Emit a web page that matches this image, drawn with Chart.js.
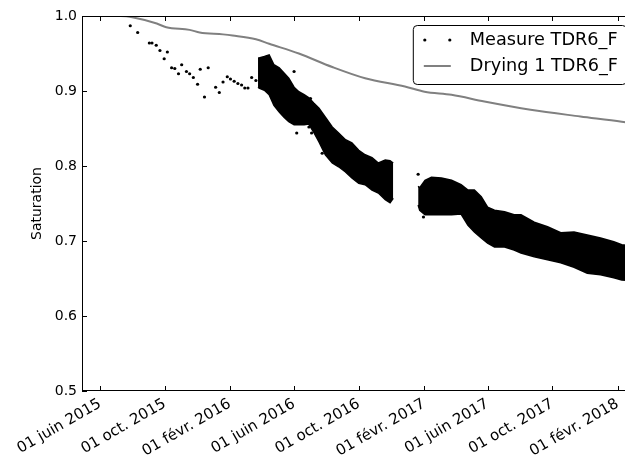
<!DOCTYPE html>
<html>
<head>
<meta charset="utf-8">
<script src="https://cdn.jsdelivr.net/npm/chart.js"></script>
<style>
  html, body { margin: 0; padding: 0; background: #fff; overflow: hidden; }
  #wrap { width: 643px; height: 456px; }
</style>
</head>
<body>
<div id="wrap"><canvas id="satChart" width="643" height="456"></canvas></div>
<script>
// x axis range and ticks
const xStart = '2015-04-28';
const xEnd = '2018-03-06';
const tickDates = ['2015-06-01', '2015-10-01', '2016-02-01', '2016-06-01', '2016-10-01',
                   '2017-02-01', '2017-06-01', '2017-10-01', '2018-02-01'];
const tickLabels = ['01 juin 2015', '01 oct. 2015', '01 févr. 2016', '01 juin 2016', '01 oct. 2016',
                    '01 févr. 2017', '01 juin 2017', '01 oct. 2017', '01 févr. 2018'];
const yTicks = [0.5, 0.6, 0.7, 0.8, 0.9, 1.0];
const yTickLabels = ['0.5', '0.6', '0.7', '0.8', '0.9', '1.0'];

// single measurements (sparse start + outliers)
const measureDates = ['2015-07-28', '2015-08-11', '2015-09-02', '2015-09-07', '2015-09-15', '2015-09-22',
  '2015-09-30', '2015-10-06', '2015-10-14', '2015-10-20', '2015-10-27', '2015-11-02', '2015-11-11',
  '2015-11-17', '2015-11-24', '2015-12-02', '2015-12-07', '2015-12-15', '2015-12-22', '2016-01-05',
  '2016-01-12', '2016-01-19', '2016-01-27', '2016-02-02', '2016-02-09', '2016-02-16', '2016-02-23',
  '2016-02-29', '2016-03-06', '2016-03-13', '2016-03-21', '2016-06-01', '2016-06-06', '2016-06-29',
  '2016-07-02', '2016-07-04', '2016-07-24', '2017-01-21', '2017-01-31'];
const measureValues = [0.987, 0.978, 0.964, 0.964, 0.961, 0.954,
  0.943, 0.952, 0.931, 0.930, 0.923, 0.935, 0.926,
  0.923, 0.918, 0.909, 0.929, 0.892, 0.931, 0.905,
  0.898, 0.912, 0.919, 0.916, 0.913, 0.910, 0.908,
  0.904, 0.904, 0.918, 0.914, 0.926, 0.844, 0.852,
  0.890, 0.844, 0.817, 0.789, 0.732];

// dense measurement cloud, upper and lower envelope (first period)
const cloud1Dates = ['2016-03-25', '2016-03-27', '2016-04-06', '2016-04-15', '2016-04-24', '2016-05-04',
  '2016-05-13', '2016-05-22', '2016-06-01', '2016-06-10', '2016-06-20', '2016-06-29', '2016-07-08',
  '2016-07-18', '2016-07-30', '2016-08-12', '2016-08-24', '2016-09-06', '2016-09-18', '2016-10-01',
  '2016-10-13', '2016-10-26', '2016-11-07', '2016-11-20', '2016-11-29', '2016-12-05'];
const cloud1High = [0.944, 0.944, 0.946, 0.948, 0.935, 0.931,
  0.924, 0.917, 0.905, 0.899, 0.895, 0.891, 0.884,
  0.877, 0.865, 0.852, 0.844, 0.835, 0.831, 0.821,
  0.815, 0.811, 0.804, 0.808, 0.807, 0.804];
const cloud1Low = [0.905, 0.904, 0.901, 0.895, 0.881, 0.872,
  0.865, 0.859, 0.855, 0.855, 0.855, 0.856, 0.845,
  0.832, 0.815, 0.804, 0.799, 0.792, 0.784, 0.777,
  0.775, 0.768, 0.764, 0.755, 0.751, 0.757];

// dense measurement cloud (second period)
const cloud2Dates = ['2017-01-21', '2017-01-24', '2017-02-03', '2017-02-15', '2017-03-06', '2017-03-25',
  '2017-04-12', '2017-04-25', '2017-05-07', '2017-05-20', '2017-06-01', '2017-06-14', '2017-07-03',
  '2017-07-21', '2017-08-03', '2017-08-28', '2017-09-22', '2017-10-17', '2017-11-11', '2017-12-06',
  '2017-12-31', '2018-01-25', '2018-02-09', '2018-03-06'];
const cloud2High = [0.773, 0.771, 0.781, 0.785, 0.784, 0.781,
  0.775, 0.768, 0.768, 0.759, 0.745, 0.741, 0.739,
  0.735, 0.735, 0.725, 0.719, 0.711, 0.712, 0.708,
  0.704, 0.699, 0.695, 0.693];
const cloud2Low = [0.748, 0.741, 0.735, 0.735, 0.735, 0.735,
  0.736, 0.721, 0.712, 0.704, 0.697, 0.692, 0.692,
  0.688, 0.684, 0.679, 0.675, 0.671, 0.665, 0.657,
  0.655, 0.651, 0.648, 0.647];

// drying model
const dryingDates = ['2015-04-28', '2015-07-10', '2015-08-03', '2015-09-16', '2015-10-04', '2015-11-17',
  '2015-12-06', '2016-01-19', '2016-02-06', '2016-03-21', '2016-04-15', '2016-06-10', '2016-08-12',
  '2016-10-13', '2016-12-27', '2017-02-02', '2017-03-25', '2017-05-26', '2017-08-21', '2017-11-23',
  '2018-02-09', '2018-03-06'];
const dryingValues = [1.0, 1.0, 0.998, 0.990, 0.985, 0.9815,
  0.978, 0.9755, 0.974, 0.969, 0.963, 0.950, 0.932,
  0.917, 0.906, 0.899, 0.895, 0.886, 0.875, 0.866,
  0.859, 0.856];

const FONT = 'DejaVu Sans';
const day = s => Date.parse(s + 'T00:00:00Z');
const toPoints = (dates, values) => dates.map((d, i) => ({ x: day(d), y: values[i] }));

// spines and inward ticks on all four sides, like the original figure
const framePlugin = {
  id: 'frame',
  afterDatasetsDraw(chart) {
    const { ctx, chartArea: a, scales: { x, y } } = chart;
    ctx.save();
    ctx.strokeStyle = '#000';
    ctx.lineWidth = 1;
    ctx.strokeRect(a.left + 0.5, a.top + 0.5, a.right - a.left - 1, a.bottom - a.top - 1);
    ctx.beginPath();
    x.ticks.forEach(t => {
      const px = Math.round(x.getPixelForValue(t.value)) + 0.5;
      ctx.moveTo(px, a.bottom); ctx.lineTo(px, a.bottom - 5);
      ctx.moveTo(px, a.top); ctx.lineTo(px, a.top + 5);
    });
    y.ticks.forEach(t => {
      const py = Math.round(y.getPixelForValue(t.value)) + 0.5;
      ctx.moveTo(a.left, py); ctx.lineTo(a.left + 5, py);
      ctx.moveTo(a.right, py); ctx.lineTo(a.right - 5, py);
    });
    ctx.stroke();
    ctx.restore();
  }
};

// legend box inside the upper right corner
const legendPlugin = {
  id: 'insideLegend',
  afterDraw(chart) {
    const { ctx, chartArea: a } = chart;
    const items = chart.data.datasets.filter(ds => ds.label);
    ctx.save();
    ctx.font = '17.7px "' + FONT + '"';
    const textW = Math.max(...items.map(ds => ctx.measureText(ds.label).width));
    const w = 57 + textW + 8, h = 59;
    const right = a.right - 9, left = right - w, top = a.top + 9;
    ctx.beginPath();
    ctx.roundRect(left + 0.5, top + 0.5, w, h, 4);
    ctx.fillStyle = '#fff';
    ctx.fill();
    ctx.strokeStyle = '#000';
    ctx.lineWidth = 1;
    ctx.stroke();
    items.forEach((ds, i) => {
      const cy = top + 15 + i * 26;
      if (ds.showLine) {
        ctx.beginPath();
        ctx.moveTo(left + 11, cy); ctx.lineTo(left + 38, cy);
        ctx.strokeStyle = ds.borderColor;
        ctx.lineWidth = ds.borderWidth;
        ctx.stroke();
      } else {
        ctx.fillStyle = ds.pointBackgroundColor;
        [left + 12, left + 37].forEach(px => {
          ctx.beginPath();
          ctx.arc(px, cy, ds.pointRadius, 0, Math.PI * 2);
          ctx.fill();
        });
      }
      ctx.fillStyle = '#000';
      ctx.textBaseline = 'middle';
      ctx.textAlign = 'left';
      ctx.fillText(ds.label, left + 57, cy);
    });
    ctx.restore();
  }
};

const bandEdge = (data, fill) => ({
  label: '', data, showLine: true, borderColor: '#000', borderWidth: 1.5,
  pointRadius: 0, fill, backgroundColor: '#000'
});

new Chart(document.getElementById('satChart'), {
  type: 'scatter',
  data: {
    datasets: [
      {
        label: 'Measure TDR6_F',
        data: toPoints(measureDates, measureValues),
        showLine: false, pointRadius: 1.6, pointBorderWidth: 0,
        pointBackgroundColor: '#000', borderColor: '#000'
      },
      {
        label: 'Drying 1 TDR6_F',
        data: toPoints(dryingDates, dryingValues),
        showLine: true, borderColor: '#808080', borderWidth: 2,
        pointRadius: 0, cubicInterpolationMode: 'monotone'
      },
      bandEdge(toPoints(cloud1Dates, cloud1High), false),
      bandEdge(toPoints(cloud1Dates, cloud1Low), '-1'),
      bandEdge(toPoints(cloud2Dates, cloud2High), false),
      bandEdge(toPoints(cloud2Dates, cloud2Low), '-1')
    ]
  },
  options: {
    responsive: false,
    animation: false,
    devicePixelRatio: 1,
    layout: { padding: { top: 16, right: 8, left: 0, bottom: 0 } },
    plugins: { legend: { display: false }, tooltip: { enabled: false } },
    scales: {
      x: {
        type: 'linear',
        min: day(xStart),
        max: day(xEnd),
        afterBuildTicks: s => { s.ticks = tickDates.map(d => ({ value: day(d) })); },
        afterFit: s => { s.height = 65; },
        grid: { display: false, drawTicks: false },
        border: { display: false },
        ticks: {
          autoSkip: false, minRotation: 30, maxRotation: 30, padding: 4,
          color: '#000', font: { family: FONT, size: 15 },
          callback: (v, i) => tickLabels[i]
        }
      },
      y: {
        min: 0.5,
        max: 1.0,
        afterBuildTicks: s => { s.ticks = yTicks.map(v => ({ value: v })); },
        afterFit: s => { s.width = 82; },
        grid: { display: false, drawTicks: false },
        border: { display: false },
        ticks: {
          padding: 5, color: '#000', font: { family: FONT, size: 14 },
          callback: (v, i) => yTickLabels[i]
        },
        title: {
          display: true, text: 'Saturation', color: '#000',
          font: { family: FONT, size: 14 }, padding: { top: 29, bottom: 0 }
        }
      }
    }
  },
  plugins: [framePlugin, legendPlugin]
});
</script>
</body>
</html>
